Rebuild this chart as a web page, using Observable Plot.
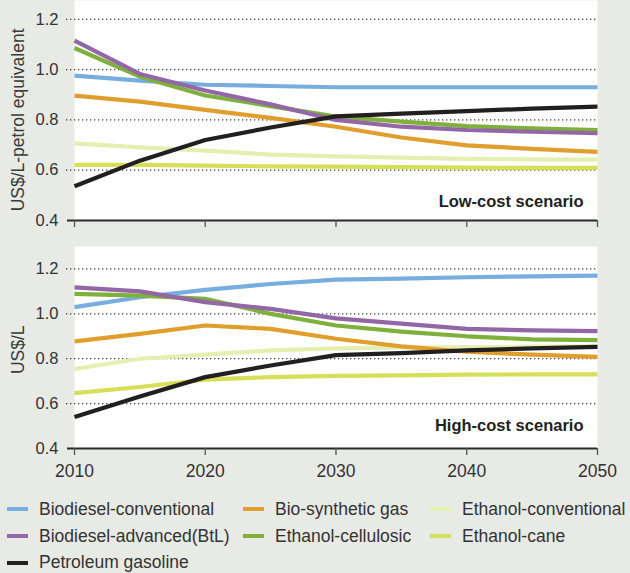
<!DOCTYPE html>
<html>
<head>
<meta charset="utf-8">
<script src="https://cdn.jsdelivr.net/npm/d3@7"></script>
<script src="https://cdn.jsdelivr.net/npm/@observablehq/plot@0.6"></script>
<style>
  html, body { margin: 0; padding: 0; }
  body { width: 630px; height: 573px; overflow: hidden; background: #e8eae5; position: relative;
         font-family: "Liberation Sans", Arial, sans-serif; color: #333; }
  #top, #bot { display: block; line-height: 0; }
  #legend { position: absolute; left: 7px; top: 496px; display: grid;
            grid-template-columns: 236px 187px auto; grid-auto-rows: 26.8px; font-size: 17.5px; }
  .item { display: flex; align-items: center; white-space: nowrap; }
  .sw { width: 21px; height: 4px; margin-right: 11px; flex: none; }
</style>
</head>
<body>
<div id="top"></div>
<div id="bot"></div>
<div id="legend"></div>
<script>
// ---- data ----
const years = [2010, 2015, 2020, 2025, 2030, 2035, 2040, 2045, 2050];
const xTicks = [2010, 2020, 2030, 2040, 2050];
const xTickLabels = ["2010", "2020", "2030", "2040", "2050"];
const yTicks = [0.4, 0.6, 0.8, 1.0, 1.2];
const yGrid = [0.6, 0.8, 1.0, 1.2];

// drawing order (back to front)
const seriesNames = ["Ethanol-conventional", "Ethanol-cane", "Biodiesel-conventional", "Bio-synthetic gas",
                     "Ethanol-cellulosic", "Biodiesel-advanced(BtL)", "Petroleum gasoline"];
const seriesColors = ["#e6efb2", "#d6df58", "#78aedf", "#e09f2c", "#7fb03c", "#9366a6", "#231f20"];

// Low-cost scenario (US$/L-petrol equivalent)
const lowEthanolConventional = [0.707, 0.691, 0.678, 0.662, 0.655, 0.650, 0.645, 0.643, 0.642];
const lowEthanolCane         = [0.621, 0.621, 0.618, 0.615, 0.614, 0.612, 0.610, 0.609, 0.609];
const lowBiodieselConv       = [0.976, 0.956, 0.940, 0.935, 0.930, 0.930, 0.930, 0.930, 0.930];
const lowBioSynGas           = [0.897, 0.873, 0.840, 0.808, 0.773, 0.730, 0.699, 0.685, 0.673];
const lowEthanolCellulosic   = [1.086, 0.972, 0.897, 0.855, 0.813, 0.793, 0.775, 0.767, 0.760];
const lowBiodieselAdv        = [1.115, 0.983, 0.917, 0.862, 0.800, 0.773, 0.760, 0.753, 0.747];
const lowPetroleum           = [0.536, 0.638, 0.720, 0.770, 0.814, 0.825, 0.835, 0.845, 0.853];

// High-cost scenario (US$/L)
const highEthanolConventional = [0.754, 0.800, 0.818, 0.837, 0.846, 0.850, 0.852, 0.854, 0.855];
const highEthanolCane         = [0.647, 0.674, 0.707, 0.718, 0.724, 0.726, 0.729, 0.730, 0.730];
const highBiodieselConv       = [1.030, 1.074, 1.107, 1.133, 1.152, 1.157, 1.163, 1.167, 1.170];
const highBioSynGas           = [0.877, 0.911, 0.948, 0.933, 0.889, 0.855, 0.831, 0.818, 0.808];
const highEthanolCellulosic   = [1.089, 1.081, 1.067, 1.000, 0.948, 0.921, 0.900, 0.886, 0.883];
const highBiodieselAdv        = [1.118, 1.100, 1.052, 1.022, 0.980, 0.956, 0.933, 0.926, 0.923];
const highPetroleum           = [0.540, 0.632, 0.718, 0.770, 0.816, 0.825, 0.837, 0.846, 0.853];

const lowSeries = [lowEthanolConventional, lowEthanolCane, lowBiodieselConv, lowBioSynGas,
                   lowEthanolCellulosic, lowBiodieselAdv, lowPetroleum];
const highSeries = [highEthanolConventional, highEthanolCane, highBiodieselConv, highBioSynGas,
                    highEthanolCellulosic, highBiodieselAdv, highPetroleum];

const legendOrder = ["Biodiesel-conventional", "Bio-synthetic gas", "Ethanol-conventional",
                     "Biodiesel-advanced(BtL)", "Ethanol-cellulosic", "Ethanol-cane", "Petroleum gasoline"];

function toRows(seriesList) {
  const rows = [];
  seriesList.forEach((vals, i) => vals.forEach((v, j) => rows.push({series: seriesNames[i], year: years[j], value: v})));
  return rows;
}

const font = "'Liberation Sans', Arial, sans-serif";

function panel({rows, yDomain, height, marginTop, marginBottom, showXLabels, yTitle, yTitleAt, scenario, scenarioDy}) {
  return Plot.plot({
    width: 630,
    height,
    marginLeft: 74,
    marginRight: 33,
    marginTop,
    marginBottom,
    style: {fontFamily: font, fontSize: "16.5px", color: "#333", background: "transparent", overflow: "visible"},
    x: {domain: [2010, 2050]},
    y: {domain: yDomain},
    color: {domain: seriesNames, range: seriesColors},
    marks: [
      Plot.frame({fill: "white", stroke: "none"}),
      Plot.gridY(yGrid, {stroke: "#3a3a3a", strokeOpacity: 1, strokeWidth: 1.2, strokeDasharray: "1.3,2.7", insetLeft: -8}),
      Plot.axisY({ticks: yTicks, tickSize: 0, tickPadding: 16, tickFormat: d => d.toFixed(1), label: null, fontSize: 16.5, fill: "#333"}),
      Plot.line(rows, {x: "year", y: "value", z: "series", stroke: "series",
                       strokeWidth: 4.2, strokeLinejoin: "round", strokeLinecap: "butt"}),
      Plot.ruleY([yDomain[0]], {stroke: "#2a2a2a", strokeWidth: 2, insetLeft: -7}),
      Plot.axisX({ticks: xTicks, tickSize: 7, tickPadding: 9, stroke: "#555", strokeWidth: 1.3,
                  tickFormat: showXLabels ? (d => xTickLabels[xTicks.indexOf(d)]) : (() => ""),
                  label: null, fontSize: 17.5, fill: "#333"}),
      Plot.text([{label: yTitle, v: yTitleAt}], {y: "v", text: "label", frameAnchor: "left", dx: -56,
                  rotate: -90, textAnchor: "middle", lineAnchor: "middle", fontSize: 17.5, fill: "#3a3a3a"}),
      Plot.text([scenario], {frameAnchor: "bottom-right", dx: -14, dy: scenarioDy, textAnchor: "end",
                  lineAnchor: "middle", fontWeight: "bold", fontSize: 16.5, fill: "#231f20"})
    ]
  });
}

document.getElementById("top").append(panel({
  rows: toRows(lowSeries), yDomain: [0.4, 1.275], height: 230, marginTop: 0, marginBottom: 10,
  showXLabels: false, yTitle: "US$/L-petrol equivalent", yTitleAt: 0.8,
  scenario: "Low-cost scenario", scenarioDy: -19
}));

document.getElementById("bot").append(panel({
  rows: toRows(highSeries), yDomain: [0.4, 1.3], height: 260, marginTop: 16, marginBottom: 42,
  showXLabels: true, yTitle: "US$/L", yTitleAt: 0.84,
  scenario: "High-cost scenario", scenarioDy: -23
}));

const legend = document.getElementById("legend");
legendOrder.forEach(name => {
  const item = document.createElement("div");
  item.className = "item";
  const sw = document.createElement("span");
  sw.className = "sw";
  sw.style.background = seriesColors[seriesNames.indexOf(name)];
  const t = document.createElement("span");
  t.textContent = name;
  item.append(sw, t);
  legend.append(item);
});
</script>
</body>
</html>
